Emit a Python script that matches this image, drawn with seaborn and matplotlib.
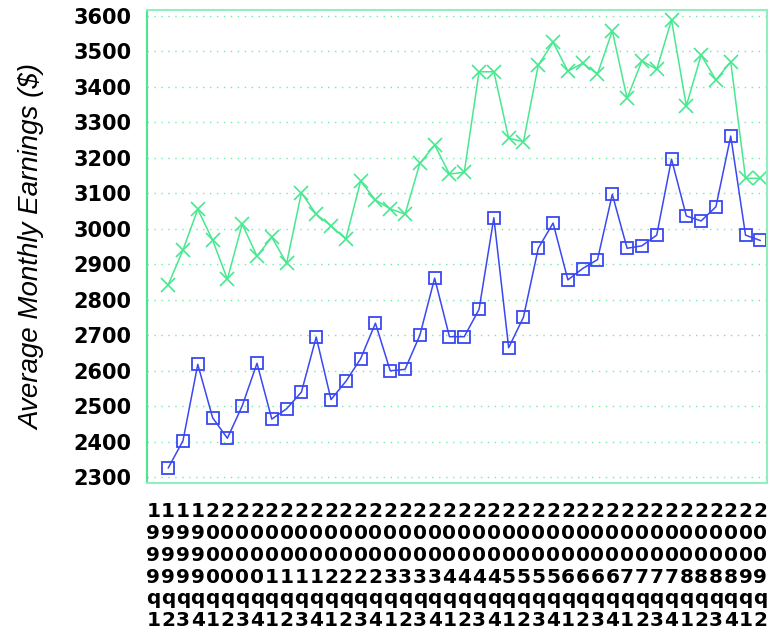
import numpy as np
import pandas as pd
import matplotlib
matplotlib.use("Agg")
import matplotlib.pyplot as plt
import seaborn as sns

quarters = [f"{y}q{q}" for y in range(1999, 2010) for q in range(1, 5)][:42]

# Upper series (x markers); 1999q1 has no value
series_upper = [None,
    2842, 2940, 3055, 2968, 2858, 3013, 2923, 2976, 2903, 3101,
    3041, 3008, 2971, 3134, 3081, 3056, 3041, 3184, 3236, 3154,
    3159, 3442, 3442, 3255, 3245, 3461, 3525, 3444, 3466, 3436,
    3557, 3367, 3473, 3449, 3588, 3346, 3489, 3419, 3470, 3142, 3142]

# Lower series (square markers)
series_lower = [None,
    2326, 2403, 2618, 2468, 2410, 2501, 2621, 2464, 2493, 2540,
    2695, 2519, 2570, 2634, 2734, 2600, 2604, 2700, 2861, 2696,
    2696, 2773, 3031, 2665, 2751, 2945, 3016, 2856, 2888, 2913,
    3097, 2945, 2952, 2982, 3196, 3036, 3022, 3062, 3261, 2982, 2967]

y_ticks = list(range(2300, 3700, 100))
y_label = "Average Monthly Earnings ($)"

green = "#48E890"
blue = "#3A48F2"
frame = "#8FF0BE"

df = pd.DataFrame({
    "idx": np.arange(len(quarters)),
    "upper": pd.to_numeric(pd.Series(series_upper), errors="coerce"),
    "lower": pd.to_numeric(pd.Series(series_lower), errors="coerce"),
})

sns.set_style("white")
plt.rcParams["font.family"] = ["DejaVu Sans"]

fig = plt.figure(figsize=(7.71, 6.42), dpi=100)
ax = fig.add_axes([147/771, 1-483/642, (767-147)/771, (483-10)/642])

sns.lineplot(data=df, x="idx", y="upper", ax=ax, color=green, lw=1.1,
             marker="x", markersize=10, markeredgewidth=1.2,
             markeredgecolor=green)
sns.lineplot(data=df, x="idx", y="lower", ax=ax, color=blue, lw=1.1,
             marker="s", markersize=8, markerfacecolor="none",
             markeredgewidth=1.3, markeredgecolor=blue)

ax.set_xlim(-0.43, 41.45)
ax.set_ylim(2284, 3616)
ax.set_yticks(y_ticks)
ax.set_yticklabels([str(v) for v in y_ticks], fontsize=15, fontweight="bold")
ax.set_xticks(df["idx"])
ax.set_xticklabels(["\n".join(list(q)) for q in quarters], fontsize=14.5,
                   fontweight="bold", linespacing=1.18)
ax.set_xlabel("")
ax.set_ylabel(y_label, fontsize=20, style="italic", family="Liberation Sans",
              color="black", labelpad=20)

for y in y_ticks:
    ax.axhline(y, color=green, lw=1.0, ls=(0, (1, 4)), alpha=0.8, zorder=0)

for s in ax.spines.values():
    s.set_color(frame)
    s.set_linewidth(1.5)
ax.spines["left"].set_color(green)
ax.tick_params(axis="both", colors=frame, length=5, width=1.2, direction="out")
ax.tick_params(axis="y", colors=green, pad=6)
ax.tick_params(axis="x", pad=9)
for t in ax.get_xticklabels() + ax.get_yticklabels():
    t.set_color("black")

fig.savefig("out.png", dpi=100)
